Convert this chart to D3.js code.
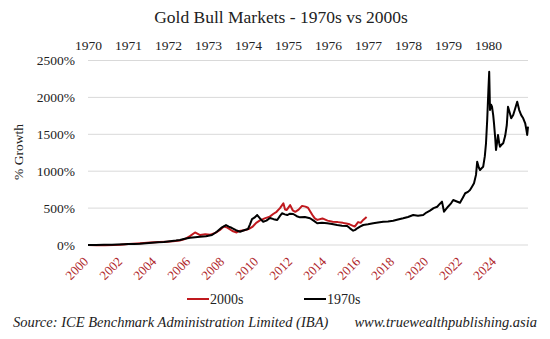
<!DOCTYPE html>
<html>
<head>
<meta charset="utf-8">
<script src="https://cdn.jsdelivr.net/npm/d3@7/dist/d3.min.js"></script>
<style>
  html, body { margin: 0; padding: 0; background: #fff; }
  svg { display: block; }
  text { font-family: "Liberation Serif", "Times New Roman", serif; }
</style>
</head>
<body>
<svg id="chart" width="550" height="339"></svg>
<script>
// Gold price growth (%) since the start of each bull market.
// 1970s run, positioned by calendar year on the top axis.
const years1970s = [
  1970.00, 1970.20, 1970.40, 1970.60, 1970.73, 1970.90, 1971.00, 1971.15, 1971.30, 1971.45,
  1971.60, 1971.75, 1971.90, 1972.10, 1972.20, 1972.30, 1972.42, 1972.55, 1972.68, 1972.80,
  1972.95, 1973.10, 1973.22, 1973.35, 1973.45, 1973.52, 1973.60, 1973.70, 1973.80, 1973.90,
  1974.00, 1974.05, 1974.10, 1974.16, 1974.23, 1974.30, 1974.38, 1974.46, 1974.55, 1974.64,
  1974.73, 1974.80, 1974.85, 1974.92, 1974.98, 1975.05, 1975.13, 1975.22, 1975.30, 1975.42,
  1975.55, 1975.64, 1975.73, 1975.85, 1975.98, 1976.10, 1976.23, 1976.35, 1976.48, 1976.55,
  1976.63, 1976.68, 1976.73, 1976.80, 1976.88, 1977.00, 1977.13, 1977.25, 1977.38, 1977.50,
  1977.63, 1977.75, 1977.88, 1978.00, 1978.13, 1978.25, 1978.38, 1978.46, 1978.55, 1978.64,
  1978.73, 1978.80, 1978.85, 1978.90, 1979.00, 1979.07, 1979.13, 1979.22, 1979.30, 1979.37,
  1979.43, 1979.50, 1979.55, 1979.60, 1979.65, 1979.70, 1979.73, 1979.77, 1979.80, 1979.84,
  1979.88, 1979.92, 1979.95, 1979.98, 1980.01, 1980.03, 1980.05, 1980.08, 1980.10, 1980.13,
  1980.15, 1980.18, 1980.20, 1980.23, 1980.25, 1980.28, 1980.30, 1980.34, 1980.38, 1980.43,
  1980.47, 1980.50, 1980.54, 1980.58, 1980.63, 1980.68, 1980.73, 1980.78, 1980.83, 1980.88,
  1980.93, 1980.96, 1980.98, 1981.00
];
const growth1970s = [
  0, 1, 3, 5, 8, 10, 12, 15, 18, 24,
  30, 36, 42, 55, 60, 68, 85, 99, 106, 112,
  120, 135, 180, 240, 270, 250, 230, 200, 180, 200,
  217, 280, 350, 370, 406, 360, 316, 330, 366, 350,
  339, 395, 430, 415, 406, 425, 420, 390, 375, 380,
  362, 330, 294, 300, 294, 285, 271, 262, 257, 226,
  194, 205, 226, 250, 271, 280, 294, 305, 316, 320,
  329, 345, 362, 380, 406, 395, 406, 440, 465, 500,
  519, 560, 587, 451, 519, 560, 610, 590, 573, 640,
  701, 720, 745, 790, 836, 950, 1129, 1050, 1016, 1040,
  1061, 1200, 1378, 1694, 2100, 2348, 1829, 1900, 1874, 1760,
  1649, 1450, 1287, 1400, 1491, 1380, 1332, 1360, 1378, 1480,
  1626, 1874, 1800, 1717, 1762, 1850, 1942, 1829, 1760, 1717,
  1649, 1560, 1491, 1603
];

// 2000s run, positioned by calendar year on the bottom axis.
const years2000s = [
  2000.00, 2000.50, 2001.00, 2001.50, 2001.90, 2002.40, 2002.90, 2003.30, 2003.65, 2004.20,
  2004.65, 2005.00, 2005.40, 2005.70, 2006.00, 2006.30, 2006.60, 2006.90, 2007.20, 2007.50,
  2007.75, 2008.00, 2008.20, 2008.50, 2008.75, 2008.90, 2009.20, 2009.45, 2009.70, 2009.90,
  2010.10, 2010.40, 2010.70, 2010.90, 2011.10, 2011.30, 2011.50, 2011.60, 2011.70, 2011.90,
  2012.05, 2012.20, 2012.40, 2012.60, 2012.80, 2012.95, 2013.20, 2013.35, 2013.50, 2013.80,
  2014.10, 2014.40, 2014.70, 2015.00, 2015.20, 2015.40, 2015.70, 2015.90, 2016.05, 2016.20,
  2016.40
];
const growth2000s = [
  0, -4, -3, 0, 2, 12, 20, 28, 35, 40,
  45, 50, 60, 80, 120, 170, 135, 145, 140, 165,
  200, 250, 235, 190, 170, 190, 200, 215, 250, 300,
  330, 360, 385, 420, 450, 500, 565, 480, 475, 540,
  470, 450, 480, 530, 520, 505, 410, 360, 340, 360,
  330, 315, 310, 300, 290, 280, 250, 310, 300, 340,
  380
];

const topTickYears = [1970, 1971, 1972, 1973, 1974, 1975, 1976, 1977, 1978, 1979, 1980];
const bottomTickYears = [2000, 2002, 2004, 2006, 2008, 2010, 2012, 2014, 2016, 2018, 2020, 2022, 2024];
const growthTicks = [0, 500, 1000, 1500, 2000, 2500];

const seriesNames = ["2000s", "1970s"];
const seriesColors = ["#c0191e", "#000000"];

const svg = d3.select("#chart");

const plotLeft = 88, plotRight = 528, plotTop = 60.5, plotBottom = 245;

const xTop = d3.scaleLinear().domain([1970, 1981]).range([plotLeft, plotRight]);
const xBottom = d3.scaleLinear().domain([2000, 2025.9]).range([plotLeft, plotRight]);
const y = d3.scaleLinear().domain([0, 2500]).range([plotBottom, plotTop]);

// Title
svg.append("text")
  .attr("x", 281).attr("y", 23)
  .attr("text-anchor", "middle")
  .attr("font-size", 17.5)
  .attr("fill", "#222")
  .text("Gold Bull Markets - 1970s vs 2000s");

// Horizontal gridlines
svg.append("g")
  .selectAll("line")
  .data(growthTicks)
  .join("line")
  .attr("x1", plotLeft).attr("x2", plotRight)
  .attr("y1", d => y(d)).attr("y2", d => y(d))
  .attr("stroke", "#d9d9d9")
  .attr("stroke-width", 1);

// Left value axis
const yAxis = svg.append("g")
  .attr("transform", `translate(${plotLeft},0)`)
  .call(d3.axisLeft(y).tickValues(growthTicks).tickSize(0).tickPadding(13)
    .tickFormat(d => d + "%"));
yAxis.select(".domain").remove();
yAxis.selectAll("text")
  .attr("font-family", "'Liberation Serif', serif")
  .attr("font-size", 13.5)
  .attr("fill", "#222");

// Top year axis (1970s)
const topAxis = svg.append("g")
  .attr("transform", "translate(0,52.5)")
  .call(d3.axisTop(xTop).tickValues(topTickYears).tickSize(0).tickPadding(3)
    .tickFormat(d3.format("d")));
topAxis.select(".domain").remove();
topAxis.selectAll("text")
  .attr("font-family", "'Liberation Serif', serif")
  .attr("font-size", 13.5)
  .attr("fill", "#222");

// Bottom year axis (2000s), rotated labels
const bottomAxis = svg.append("g")
  .attr("transform", "translate(0,263)")
  .call(d3.axisBottom(xBottom).tickValues(bottomTickYears).tickSize(0)
    .tickFormat(d3.format("d")));
bottomAxis.select(".domain").remove();
bottomAxis.selectAll("text")
  .attr("font-family", "'Liberation Serif', serif")
  .attr("font-size", 13)
  .attr("fill", "#b0262b")
  .attr("x", 1).attr("y", 0).attr("dy", 0)
  .attr("text-anchor", "end")
  .attr("transform", "rotate(-45)");

// Axis title
svg.append("text")
  .attr("transform", "translate(23,152) rotate(-90)")
  .attr("text-anchor", "middle")
  .attr("font-size", 13.5)
  .attr("fill", "#222")
  .text("% Growth");

// Series lines
const line2000s = d3.line()
  .x((d, i) => xBottom(years2000s[i]))
  .y(d => y(d));
const line1970s = d3.line()
  .x((d, i) => xTop(years1970s[i]))
  .y(d => y(d));

svg.append("path")
  .datum(growth2000s)
  .attr("d", line2000s)
  .attr("fill", "none")
  .attr("stroke", seriesColors[0])
  .attr("stroke-width", 2)
  .attr("stroke-linejoin", "round");

svg.append("path")
  .datum(growth1970s)
  .attr("d", line1970s)
  .attr("fill", "none")
  .attr("stroke", seriesColors[1])
  .attr("stroke-width", 2)
  .attr("stroke-linejoin", "round");

// Legend
const legendX = [187, 304];
const legend = svg.append("g")
  .selectAll("g")
  .data(seriesNames)
  .join("g")
  .attr("transform", (d, i) => `translate(${legendX[i]},299)`);
legend.append("line")
  .attr("x1", 0).attr("x2", 22)
  .attr("y1", 0).attr("y2", 0)
  .attr("stroke", (d, i) => seriesColors[i])
  .attr("stroke-width", 2);
legend.append("text")
  .attr("x", 23).attr("y", 4.5)
  .attr("font-size", 14)
  .attr("fill", "#222")
  .text(d => d);

// Footer
svg.append("text")
  .attr("x", 13).attr("y", 327)
  .attr("font-size", 14.5)
  .attr("font-style", "italic")
  .attr("fill", "#222")
  .text("Source: ICE Benchmark Administration Limited (IBA)");
svg.append("text")
  .attr("x", 537).attr("y", 327)
  .attr("text-anchor", "end")
  .attr("font-size", 14.5)
  .attr("font-style", "italic")
  .attr("fill", "#222")
  .text("www.truewealthpublishing.asia");
</script>
</body>
</html>
